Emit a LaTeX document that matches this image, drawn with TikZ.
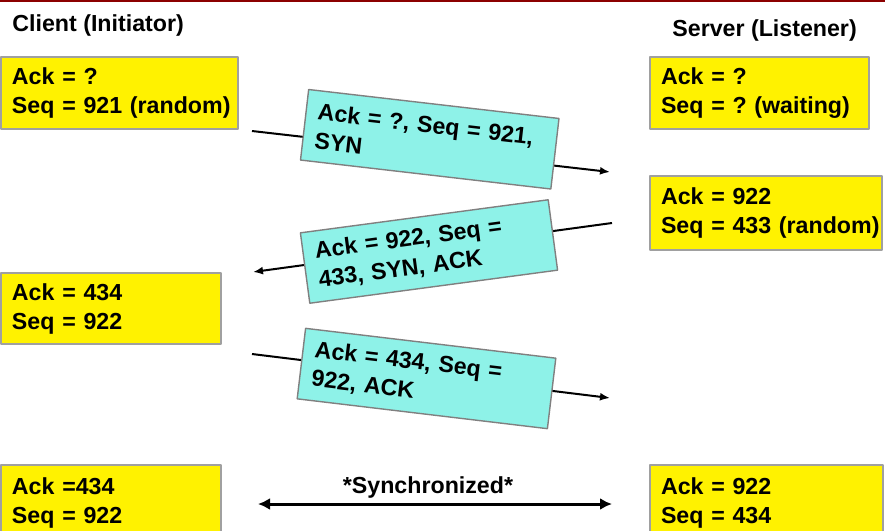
\documentclass[tikz,border=0pt]{standalone}
\usepackage{fontspec}
\setmainfont{Liberation Sans}
\usetikzlibrary{arrows.meta}
\definecolor{msgcyan}{RGB}{142,242,232}
\definecolor{framegray}{RGB}{160,160,160}
\definecolor{topred}{RGB}{140,0,0}
\frenchspacing
\begin{document}
\begin{tikzpicture}[x=0.5pt,y=-0.5pt,font=\fontsize{11.6}{14.5}\selectfont\bfseries,line join=round,
	state/.style={draw=framegray,fill=yellow,line width=1pt,anchor=north west,align=left,inner xsep=1pt,inner ysep=0pt,minimum height=36pt,execute at begin node={\leftskip=4.5pt}},
	msg/.style={draw=gray,fill=msgcyan,line width=0.7pt,align=left,inner xsep=1pt,inner ysep=0pt,minimum height=35.5pt,execute at begin node={\leftskip=5pt}},
	flow/.style={line width=1pt,-{Latex[length=5pt,width=4pt]}}]
	\useasboundingbox (0,0) rectangle (885,531);
	\clip (0,0) rectangle (885,531);
	\fill[topred] (0,0) rectangle (885,2);
	\node[anchor=west,inner sep=0pt] (client) at (12,25) {Client (Initiator)};
	\node[anchor=west,inner sep=0pt] (server) at (672,30) {Server (Listener)};
	% states
	\node[state,text width=116.5pt] (cSyn) at (0,56) {Ack = ?\\Seq = 921 (random)};
	\node[state,text width=107.5pt] (sListen) at (649,56) {Ack = ?\\Seq = ? (waiting)};
	\node[state,text width=114pt,minimum height=37pt] (sSynAck) at (649,175) {Ack = 922\\Seq = 433 (random)};
	\node[state,text width=108pt,minimum height=35.5pt] (cAck) at (0,272) {Ack = 434\\Seq = 922};
	\node[state,text width=108pt,minimum height=38pt] (cDone) at (0,464) {Ack =434\\Seq = 922};
	\node[state,text width=114.5pt,minimum height=38pt] (sDone) at (649,464) {Ack = 922\\Seq = 434};
	% segments
	\coordinate (synFrom) at (252,131); \coordinate (synTo) at (610,172);
	\coordinate (synAckFrom) at (612,223); \coordinate (synAckTo) at (253,272);
	\coordinate (ackFrom) at (252,354); \coordinate (ackTo) at (610,398);
	\draw[flow] (synFrom) -- (synTo);
	\draw[flow] (synAckFrom) -- (synAckTo);
	\draw[flow] (ackFrom) -- (ackTo);
	\node[msg,rotate=-6.6,text width=124pt] (synMsg) at (429.75,139.25) {Ack = ?, Seq = 921,\\SYN};
	\node[msg,rotate=7.6,text width=123pt] (synAckMsg) at (429,251.5) {Ack = 922, Seq =\\433, SYN, ACK};
	\node[msg,rotate=-6.8,text width=124pt] (ackMsg) at (426.5,378.5) {Ack = 434, Seq =\\922, ACK};
	% synchronized
	\coordinate (syncL) at (258,504); \coordinate (syncR) at (612,504);
	\draw[line width=1.5pt,{Latex[length=6pt,width=6pt]}-{Latex[length=6pt,width=6pt]}] (syncL) -- (syncR);
	\node (syncLabel) at (428,487) {*Synchronized*};
\end{tikzpicture}
\end{document}
